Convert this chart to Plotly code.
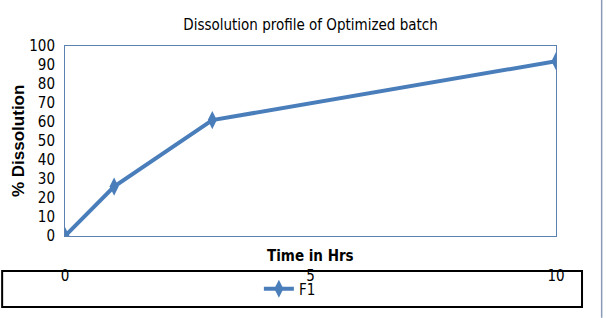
import plotly.graph_objects as go

time_hrs = [0, 1, 3, 10]
dissolution = [0, 26, 61, 92]
series_name = "F1"
x_ticks = [0, 5, 10]
y_ticks = list(range(0, 101, 10))

narrow = "Liberation Sans Narrow, Arial Narrow, DejaVu Sans Condensed, sans-serif"
blue = "#4A7EBB"
frame = "#5B80B2"

fig = go.Figure()
fig.add_trace(go.Scatter(
    x=time_hrs, y=dissolution, name=series_name, mode="lines+markers",
    line=dict(color=blue, width=4),
    marker=dict(symbol="diamond-tall", size=13, color=blue),
    showlegend=True,
))

fig.update_layout(
    width=606, height=318,
    margin=dict(l=65, r=50, t=46, b=82),
    paper_bgcolor="white", plot_bgcolor="white",
    title=dict(text="Dissolution profile of Optimized batch", x=0.5, xref="paper",
               y=0.921, yref="container", yanchor="middle",
               font=dict(family=narrow, size=15, color="black")),
    xaxis=dict(range=[0, 10], tickvals=x_ticks, showgrid=False, zeroline=False,
               showline=True, linecolor=frame, linewidth=1, mirror=True,
               ticks="", ticklabelstandoff=26,
               tickfont=dict(family=narrow, size=15, color="black")),
    yaxis=dict(range=[0, 100], tickvals=y_ticks, showgrid=False, zeroline=False,
               showline=True, linecolor=frame, linewidth=1, mirror=True,
               ticks="", ticklabelstandoff=6,
               tickfont=dict(family=narrow, size=15, color="black")),
    legend=dict(orientation="h", x=0.458, xanchor="center", y=-0.279, yanchor="middle",
                bgcolor="rgba(0,0,0,0)", font=dict(family=narrow, size=15, color="black")),
    shapes=[
        dict(type="rect", xref="paper", yref="paper", x0=-0.128, x1=1.053, y0=-0.184, y1=-0.374,
             line=dict(color="black", width=2), layer="below"),
        dict(type="line", xref="paper", yref="paper", x0=1.093, x1=1.093, y0=-0.43, y1=1.26,
             line=dict(color="#8A9BB8", width=1.5)),
    ],
    annotations=[
        dict(text="<b>Time in Hrs</b>", xref="paper", yref="paper", x=0.5, y=-0.105,
             showarrow=False, yanchor="middle",
             font=dict(family=narrow, size=15, color="black")),
        dict(text="<b>% Dissolution</b>", xref="paper", yref="paper", x=-0.0957, y=0.5,
             showarrow=False, textangle=-90, xanchor="center", yanchor="middle",
             font=dict(family="Liberation Sans, Arial, sans-serif", size=17, color="black")),
    ],
)

fig.write_html("out.html")
